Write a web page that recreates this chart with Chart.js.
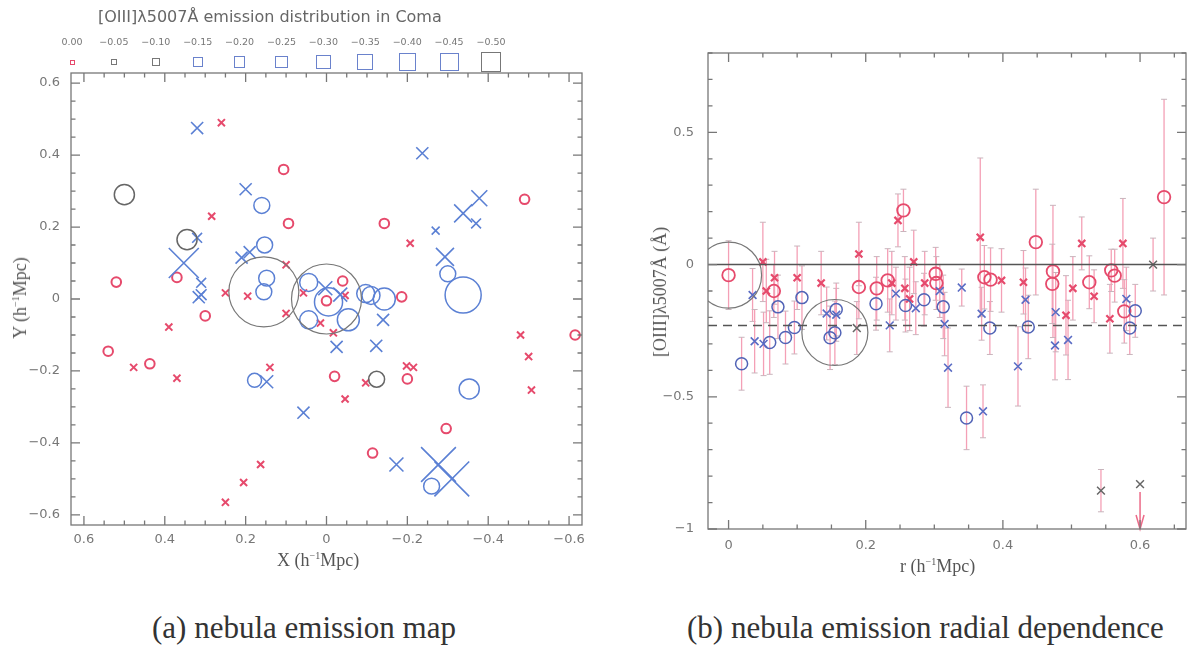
<!DOCTYPE html>
<html><head><meta charset="utf-8">
<script src="https://cdn.jsdelivr.net/npm/chart.js@4.4.1/dist/chart.umd.min.js"></script>
<style>
body{margin:0;background:#fff;width:1192px;height:656px;position:relative;overflow:hidden;font-family:"DejaVu Sans",sans-serif;}
canvas{position:absolute;}
.t{position:absolute;white-space:nowrap;color:#555;line-height:1;}
.cap{position:absolute;white-space:nowrap;color:#333;font-family:"Liberation Serif",serif;font-size:31px;line-height:1;}
.ax{position:absolute;white-space:nowrap;color:#555;font-family:"Liberation Serif",serif;font-size:18px;line-height:1;}
.lg{position:absolute;font-size:9.5px;color:#777;transform:translateX(-50%);white-space:nowrap;line-height:1;}
.sq{position:absolute;box-sizing:border-box;border:1.3px solid #777;}
</style></head><body>
<canvas id="c1" width="600" height="560" style="left:0;top:0;width:600px;height:560px"></canvas>
<canvas id="c2" width="592" height="560" style="left:600px;top:0;width:592px;height:560px"></canvas>
<div class="t" style="left:98px;top:9px;font-size:16px;color:#666;">[OIII]λ5007Å emission distribution in Coma</div>
<div id="legend"></div>
<div class="ax" style="left:277px;top:551px;">X (h<sup style="font-size:10px">−1</sup>Mpc)</div>
<div class="ax" style="left:20px;top:298px;transform:translate(-50%,-50%) rotate(-90deg);">Y (h<sup style="font-size:10px">−1</sup>Mpc)</div>
<div class="ax" style="left:900px;top:557px;">r (h<sup style="font-size:10px">−1</sup>Mpc)</div>
<div class="ax" style="left:660px;top:292px;transform:translate(-50%,-50%) rotate(-90deg);">[OIII]λ5007Å (Å)</div>
<div class="cap" style="left:152px;top:612px;">(a) nebula emission map</div>
<div class="cap" style="left:687px;top:612px;">(b) nebula emission radial dependence</div>
<script>
// ---------------- (a) emission map data ----------------
const redCircleX = [0.106, 0.094, 0.52, 0.37, 0.30, 0.54, 0.437, -0.49, -0.143, -0.186, -0.04, 0.0, -0.615, -0.02, -0.2, -0.296, -0.114];
const redCircleY = [0.36, 0.21, 0.047, 0.06, -0.047, -0.145, -0.18, 0.277, 0.21, 0.006, 0.05, -0.005, -0.10, -0.215, -0.222, -0.36, -0.428];
const redCrossX = [0.26, 0.284, 0.10, 0.25, 0.195, 0.10, 0.39, 0.477, 0.37, 0.14, 0.163, 0.205, 0.25, -0.207, 0.057, -0.046, 0.015, -0.017, -0.48, -0.50, -0.507, -0.097, -0.198, -0.215, -0.046];
const redCrossY = [0.49, 0.23, 0.095, 0.017, 0.008, -0.04, -0.078, -0.19, -0.22, -0.19, -0.46, -0.51, -0.565, 0.155, 0.017, 0.01, -0.067, -0.094, -0.10, -0.16, -0.253, -0.233, -0.186, -0.19, -0.278];
const blueCircleX = [0.16, 0.153, 0.148, 0.155, 0.178, -0.30, -0.338, -0.143, -0.097, -0.11, 0.044, -0.005, 0.044, -0.054, -0.353, -0.26];
const blueCircleY = [0.26, 0.15, 0.058, 0.02, -0.226, 0.07, 0.011, 0.0, 0.015, 0.01, 0.046, -0.008, -0.058, -0.058, -0.25, -0.52];
const blueCircleEW = [-0.31, -0.31, -0.31, -0.31, -0.25, -0.31, -0.94, -0.5, -0.375, -0.375, -0.375, -0.69, -0.375, -0.5, -0.44, -0.31];
const blueCrossX = [0.32, 0.20, 0.353, 0.32, 0.21, 0.19, 0.31, 0.316, 0.31, 0.148, -0.237, -0.27, -0.338, -0.378, -0.37, -0.293, 0.003, -0.034, -0.025, -0.123, -0.14, 0.057, -0.173, -0.277, -0.31];
const blueCrossY = [0.475, 0.305, 0.10, 0.17, 0.115, 0.13, 0.045, 0.005, 0.012, -0.23, 0.405, 0.19, 0.238, 0.28, 0.21, 0.117, 0.03, 0.012, -0.133, -0.13, -0.058, -0.316, -0.46, -0.46, -0.5];
const blueCrossEW = [-0.19, -0.19, -0.75, -0.12, -0.19, -0.19, -0.12, -0.19, -0.15, -0.22, -0.19, -0.06, -0.375, -0.31, -0.12, -0.375, -0.25, -0.25, -0.19, -0.19, -0.19, -0.19, -0.25, -0.9, -0.9];
const grayCircleX = [0.50, 0.345, -0.124];
const grayCircleY = [0.29, 0.165, -0.223];
const grayCircleEW = [-0.44, -0.44, -0.31];
const cDX = [0.155, 0.0];   // central dominant galaxies (highlight rings)
const cDY = [0.02, 0.0];
const legendValues = [0.00, -0.05, -0.10, -0.15, -0.20, -0.25, -0.30, -0.35, -0.40, -0.45, -0.50];
const legendLabels = ["0.00", "−0.05", "−0.10", "−0.15", "−0.20", "−0.25", "−0.30", "−0.35", "−0.40", "−0.45", "−0.50"];
const mapTicks = [0.6, 0.4, 0.2, 0, -0.2, -0.4, -0.6];
const mapTickLabels = ["0.6", "0.4", "0.2", "0", "−0.2", "−0.4", "−0.6"];

// ---------------- (b) radial dependence data ----------------
const rRedCircle = [0, 0.066, 0.19, 0.216, 0.232, 0.255, 0.302, 0.303, 0.373, 0.382, 0.448, 0.473, 0.472, 0.526, 0.558, 0.563, 0.577, 0.635];
const vRedCircle = [-0.04, -0.10, -0.085, -0.09, -0.06, 0.205, -0.035, -0.07, -0.048, -0.057, 0.085, -0.026, -0.073, -0.067, -0.022, -0.042, -0.177, 0.255];
const eRedCircle = [0.13, 0.1, 0.12, 0.12, 0.12, 0.08, 0.1, 0.1, 0.12, 0.12, 0.2, 0.25, 0.15, 0.1, 0.08, 0.1, 0.12, 0.37];
const rBlueCircle = [0.019, 0.06, 0.072, 0.083, 0.096, 0.107, 0.148, 0.155, 0.157, 0.215, 0.258, 0.285, 0.313, 0.347, 0.381, 0.437, 0.585, 0.593];
const vBlueCircle = [-0.375, -0.295, -0.16, -0.276, -0.238, -0.125, -0.277, -0.258, -0.17, -0.148, -0.155, -0.133, -0.16, -0.58, -0.24, -0.236, -0.24, -0.175];
const eBlueCircle = [0.1, 0.12, 0.12, 0.1, 0.1, 0.12, 0.12, 0.12, 0.1, 0.1, 0.1, 0.1, 0.12, 0.12, 0.1, 0.12, 0.1, 0.1];
const rRedCross = [0.05, 0.055, 0.067, 0.10, 0.135, 0.19, 0.238, 0.247, 0.257, 0.27, 0.264, 0.286, 0.367, 0.398, 0.43, 0.492, 0.502, 0.515, 0.533, 0.556, 0.575];
const vRedCross = [0.01, -0.10, -0.05, -0.05, -0.07, 0.04, -0.07, 0.167, -0.09, 0.01, -0.13, -0.07, 0.103, -0.06, -0.067, -0.192, -0.09, 0.08, -0.12, -0.205, 0.08];
const eRedCross = [0.15, 0.12, 0.1, 0.12, 0.12, 0.12, 0.12, 0.1, 0.12, 0.12, 0.12, 0.12, 0.3, 0.12, 0.12, 0.15, 0.12, 0.1, 0.1, 0.13, 0.17];
const rBlueCross = [0.035, 0.038, 0.051, 0.143, 0.157, 0.235, 0.244, 0.273, 0.308, 0.315, 0.32, 0.34, 0.369, 0.371, 0.422, 0.433, 0.476, 0.477, 0.495, 0.58];
const vBlueCross = [-0.115, -0.29, -0.30, -0.185, -0.19, -0.23, -0.11, -0.165, -0.10, -0.225, -0.39, -0.087, -0.186, -0.555, -0.385, -0.133, -0.306, -0.18, -0.285, -0.13];
const eBlueCross = [0.1, 0.12, 0.12, 0.1, 0.1, 0.1, 0.1, 0.1, 0.1, 0.12, 0.15, 0.07, 0.1, 0.1, 0.15, 0.12, 0.13, 0.15, 0.15, 0.12];
const rGrayCross = [0.187, 0.543, 0.6, 0.619];
const vGrayCross = [-0.24, -0.855, -0.83, 0.0];
const eGrayCross = [0.1, 0.08, 0, 0.1];
const rLimit = [0.6], vLimitFrom = [-0.86], vLimitTo = [-1.0];   // upper-limit arrow
const rRing = [0, 0.155], vRing = [-0.04, -0.257];              // highlighted central galaxies
const zeroLevel = 0, meanLevel = -0.23;
const radTicksX = [0, 0.2, 0.4, 0.6], radTickLabelsX = ["0", "0.2", "0.4", "0.6"];
const radTicksY = [0.5, 0, -0.5, -1], radTickLabelsY = ["0.5", "0", "−0.5", "−1"];

// ---------------- styling ----------------
const RED = '#e64a6c', BLUE = '#5b80d4', BLUE2 = '#5163b6', GRAY = '#666';
const legendColors = ['#e64a6c', '#777', '#777', '#6a82cc', '#6a82cc', '#6a82cc', '#6a82cc', '#6a82cc', '#6a82cc', '#6a82cc', '#777'];

// legend row (HTML)
const lg = document.getElementById('legend');
legendValues.forEach((v, i) => {
  const cx = 72 + 41.9 * i;
  const l = document.createElement('div'); l.className = 'lg'; l.style.left = cx + 'px'; l.style.top = '37px'; l.textContent = legendLabels[i]; lg.appendChild(l);
  const s = 5 + 31 * Math.abs(v);
  const q = document.createElement('div'); q.className = 'sq';
  q.style.left = (cx - s / 2) + 'px'; q.style.top = (62 - s / 2) + 'px'; q.style.width = s + 'px'; q.style.height = s + 'px';
  q.style.borderColor = legendColors[i]; lg.appendChild(q);
});

const zip = (xs, ys, ws) => xs.map((x, i) => ({ x, y: ys[i], w: ws ? ws[i] : 0 }));
const circR = c => 3 + 16 * Math.abs(c.raw.w);
const crossR = c => 1.414 * (3 + 16 * Math.abs(c.raw.w));

const frameTicks = {
  id: 'frameTicks',
  afterDatasetsDraw(chart, args, o) {
    const { ctx, chartArea: a, scales: { x, y } } = chart;
    ctx.save();
    ctx.strokeStyle = '#777'; ctx.lineWidth = 1.3;
    ctx.strokeRect(a.left, a.top, a.right - a.left, a.bottom - a.top);
    ctx.beginPath();
    const doX = (step, len) => {
      for (let k = Math.ceil(x.min / step - 1e-6); k <= Math.floor(x.max / step + 1e-6); k++) {
        const p = x.getPixelForValue(k * step);
        ctx.moveTo(p, a.bottom); ctx.lineTo(p, a.bottom - len);
        ctx.moveTo(p, a.top); ctx.lineTo(p, a.top + len);
      }
    };
    const doY = (step, len) => {
      for (let k = Math.ceil(y.min / step - 1e-6); k <= Math.floor(y.max / step + 1e-6); k++) {
        const p = y.getPixelForValue(k * step);
        ctx.moveTo(a.left, p); ctx.lineTo(a.left + len, p);
        ctx.moveTo(a.right, p); ctx.lineTo(a.right - len, p);
      }
    };
    doX(o.xMajor, 9); doX(o.xMinor, 4.5); doY(o.yMajor, 9); doY(o.yMinor, 4.5);
    ctx.stroke();
    ctx.restore();
  }
};

const errorBars = {
  id: 'errorBars',
  beforeDatasetsDraw(chart) {
    const { ctx, scales: { x, y } } = chart;
    ctx.save();
    chart.data.datasets.forEach(ds => {
      if (!ds.errs) return;
      ds.data.forEach((p, i) => {
        const e = ds.errs[i]; if (!e) return;
        const px = x.getPixelForValue(p.x), y1 = y.getPixelForValue(p.y + e), y2 = y.getPixelForValue(p.y - e);
        ctx.strokeStyle = '#f4a0b6'; ctx.lineWidth = 1.3;
        ctx.beginPath(); ctx.moveTo(px, y1); ctx.lineTo(px, y2); ctx.stroke();
        ctx.strokeStyle = '#c8b4bc'; ctx.lineWidth = 1;
        ctx.beginPath(); ctx.moveTo(px - 3, y1); ctx.lineTo(px + 3, y1); ctx.moveTo(px - 3, y2); ctx.lineTo(px + 3, y2); ctx.stroke();
      });
    });
    // upper-limit arrow
    rLimit.forEach((r, i) => {
      const px = x.getPixelForValue(r), a = y.getPixelForValue(vLimitFrom[i]), b = y.getPixelForValue(vLimitTo[i]);
      ctx.strokeStyle = '#ec6a88'; ctx.lineWidth = 1.5;
      ctx.beginPath(); ctx.moveTo(px, a); ctx.lineTo(px, b); ctx.stroke();
      ctx.beginPath(); ctx.moveTo(px - 4, b - 14); ctx.lineTo(px, b); ctx.lineTo(px + 4, b - 14); ctx.stroke();
    });
    ctx.restore();
  }
};

const tickFont = { family: 'DejaVu Sans', size: 13 };
const fixedTicks = (vals, labels) => ({
  afterBuildTicks: s => { s.ticks = vals.map(v => ({ value: v })); },
  ticks: { callback: (v) => { const i = vals.findIndex(t => Math.abs(t - v) < 1e-9); return i >= 0 ? labels[i] : ''; } }
});
const fitH = h => s => { s.height = h; s.paddingLeft = 0; s.paddingRight = 0; };
const fitW = w => s => { s.width = w; s.paddingTop = 0; s.paddingBottom = 0; };

Chart.defaults.font.family = 'DejaVu Sans';

// ---------------- chart (a) ----------------
new Chart(document.getElementById('c1'), {
  type: 'scatter',
  data: {
    datasets: [
      { data: zip(cDX, cDY), pointStyle: 'circle', pointRadius: 35, borderColor: '#777', backgroundColor: 'transparent', borderWidth: 1.2 },
      { data: zip(grayCircleX, grayCircleY, grayCircleEW), pointStyle: 'circle', pointRadius: circR, borderColor: '#666', backgroundColor: 'transparent', borderWidth: 1.5 },
      { data: zip(blueCircleX, blueCircleY, blueCircleEW), pointStyle: 'circle', pointRadius: circR, borderColor: BLUE, backgroundColor: 'transparent', borderWidth: 1.5 },
      { data: zip(blueCrossX, blueCrossY, blueCrossEW), pointStyle: 'crossRot', pointRadius: crossR, borderColor: BLUE, backgroundColor: 'transparent', borderWidth: 1.6 },
      { data: zip(redCircleX, redCircleY), pointStyle: 'circle', pointRadius: 4.8, borderColor: RED, backgroundColor: 'transparent', borderWidth: 2 },
      { data: zip(redCrossX, redCrossY), pointStyle: 'crossRot', pointRadius: 5, borderColor: RED, backgroundColor: 'transparent', borderWidth: 2 }
    ]
  },
  options: {
    responsive: false, animation: false, events: [], devicePixelRatio: 1,
    layout: { autoPadding: false, padding: { top: 73, right: 18, bottom: 10, left: 0 } },
    plugins: { legend: { display: false }, tooltip: { enabled: false }, frameTicks: { xMajor: 0.2, xMinor: 0.05, yMajor: 0.2, yMinor: 0.05 } },
    scales: {
      x: { type: 'linear', reverse: true, min: -0.632, max: 0.632, grid: { display: false, drawTicks: false }, border: { display: false },
        afterFit: fitH(25), afterBuildTicks: fixedTicks(mapTicks, mapTickLabels).afterBuildTicks,
        ticks: Object.assign(fixedTicks(mapTicks, mapTickLabels).ticks, { color: '#777', font: tickFont, padding: 7, maxRotation: 0, autoSkip: false }) },
      y: { type: 'linear', min: -0.628, max: 0.628, grid: { display: false, drawTicks: false }, border: { display: false },
        afterFit: fitW(71), afterBuildTicks: fixedTicks(mapTicks, mapTickLabels).afterBuildTicks,
        ticks: Object.assign(fixedTicks(mapTicks, mapTickLabels).ticks, { color: '#777', font: tickFont, padding: 11, autoSkip: false }) }
    }
  },
  plugins: [frameTicks]
});

// ---------------- chart (b) ----------------
const xMinR = -0.03, xMaxR = 0.667;
new Chart(document.getElementById('c2'), {
  type: 'scatter',
  data: {
    datasets: [
      { type: 'line', data: [{ x: xMinR, y: zeroLevel }, { x: xMaxR, y: zeroLevel }], borderColor: '#555', borderWidth: 1.5, pointRadius: 0 },
      { type: 'line', data: [{ x: xMinR, y: meanLevel }, { x: xMaxR, y: meanLevel }], borderColor: '#555', borderWidth: 1.5, borderDash: [9, 6], pointRadius: 0 },
      { data: zip(rRing, vRing), pointStyle: 'circle', pointRadius: 33, borderColor: '#777', backgroundColor: 'transparent', borderWidth: 1.2 },
      { data: zip(rGrayCross, vGrayCross), errs: eGrayCross, pointStyle: 'crossRot', pointRadius: 5.5, borderColor: '#666', backgroundColor: 'transparent', borderWidth: 1.5 },
      { data: zip(rBlueCross, vBlueCross), errs: eBlueCross, pointStyle: 'crossRot', pointRadius: 5.5, borderColor: '#5a6cc4', backgroundColor: 'transparent', borderWidth: 1.6 },
      { data: zip(rBlueCircle, vBlueCircle), errs: eBlueCircle, pointStyle: 'circle', pointRadius: 6, borderColor: BLUE2, backgroundColor: 'transparent', borderWidth: 1.5 },
      { data: zip(rRedCross, vRedCross), errs: eRedCross, pointStyle: 'crossRot', pointRadius: 5, borderColor: RED, backgroundColor: 'transparent', borderWidth: 2.2 },
      { data: zip(rRedCircle, vRedCircle), errs: eRedCircle, pointStyle: 'circle', pointRadius: 6.3, borderColor: RED, backgroundColor: 'transparent', borderWidth: 1.8 }
    ]
  },
  options: {
    responsive: false, animation: false, events: [], devicePixelRatio: 1,
    layout: { autoPadding: false, padding: { top: 53, right: 6, bottom: 6, left: 0 } },
    plugins: { legend: { display: false }, tooltip: { enabled: false }, frameTicks: { xMajor: 0.2, xMinor: 0.05, yMajor: 0.5, yMinor: 0.1 } },
    scales: {
      x: { type: 'linear', min: xMinR, max: xMaxR, grid: { display: false, drawTicks: false }, border: { display: false },
        afterFit: fitH(25), afterBuildTicks: fixedTicks(radTicksX, radTickLabelsX).afterBuildTicks,
        ticks: Object.assign(fixedTicks(radTicksX, radTickLabelsX).ticks, { color: '#777', font: tickFont, padding: 9, maxRotation: 0, autoSkip: false }) },
      y: { type: 'linear', min: -1, max: 0.8, grid: { display: false, drawTicks: false }, border: { display: false },
        afterFit: fitW(108), afterBuildTicks: fixedTicks(radTicksY, radTickLabelsY).afterBuildTicks,
        ticks: Object.assign(fixedTicks(radTicksY, radTickLabelsY).ticks, { color: '#777', font: tickFont, padding: 14, autoSkip: false }) }
    }
  },
  plugins: [frameTicks, errorBars]
});
</script>
</body></html>
